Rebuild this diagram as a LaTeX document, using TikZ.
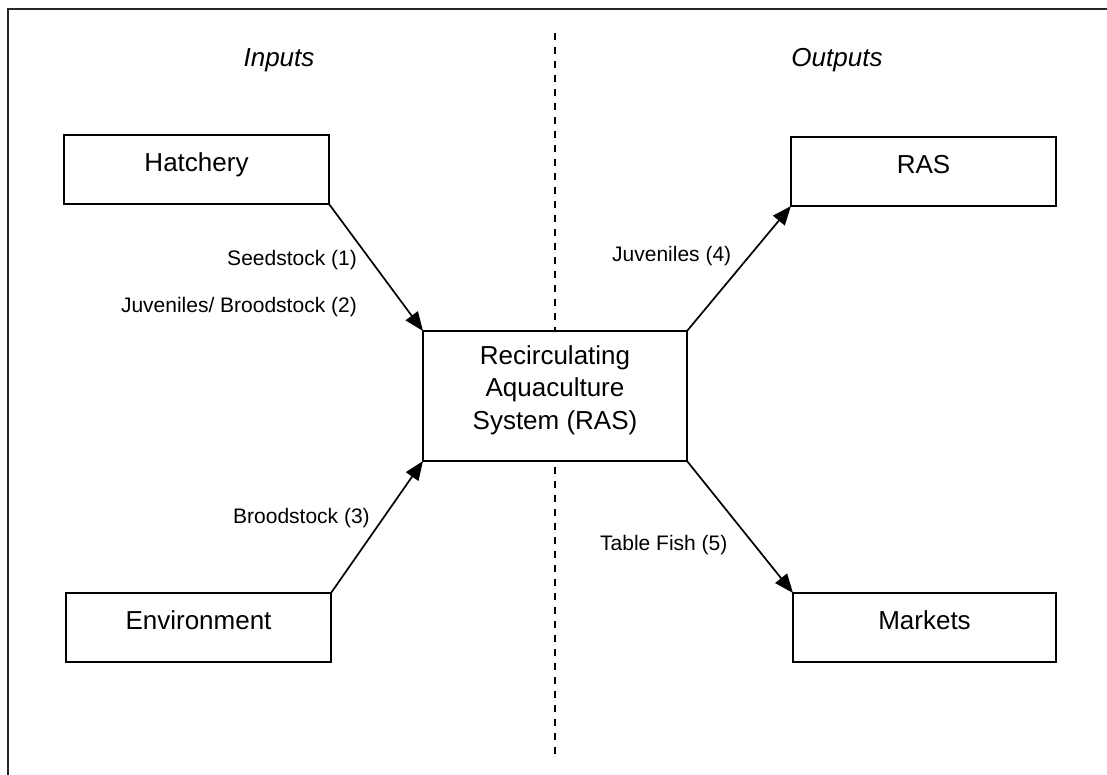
\documentclass[tikz,border=0pt]{standalone}
\usepackage{fontspec}
\setmainfont{Liberation Sans}
\usetikzlibrary{arrows.meta}
\begin{document}
\begin{tikzpicture}[x=1pt,y=-1pt,
  box/.style={draw=black,line width=1.6pt,fill=white,inner sep=0pt,outer sep=0pt},
  boxtxt/.style={font=\fontsize{26}{32.5}\selectfont,inner sep=0pt,text height=19pt,text depth=5pt},
  multitxt/.style={font=\fontsize{26}{32.5}\selectfont,align=center,inner sep=0pt},
  flowlbl/.style={font=\fontsize{21}{25}\selectfont,inner sep=0pt},
  headlbl/.style={font=\fontsize{26}{31}\selectfont\itshape,inner sep=0pt},
  flow/.style={line width=1.7pt,-{Triangle[length=19pt,width=15pt]}},
  divider/.style={line width=2pt,dash pattern=on 7pt off 7pt},
  frame/.style={line width=2pt,draw=black!85}]
\useasboundingbox (0,0) rectangle (1107,774);
% frame (left and top edges only)
\coordinate (fbl) at (8,780);
\coordinate (ftl) at (8,9);
\coordinate (ftr) at (1115,9);
\draw[frame] (fbl) -- (ftl) -- (ftr);
% divider
\coordinate (dtop) at (555,33);
\coordinate (dbot) at (555,755);
\draw[divider] (dtop) -- (dbot);
% headings
\node[headlbl] (inputs) at (279,60) {Inputs};
\node[headlbl] (outputs) at (837,60) {Outputs};
% boxes
\node[box,minimum width=265pt,minimum height=69pt,
  label={[boxtxt,yshift=5pt]center:Hatchery}] (hat) at (196.5,169.5) {};
\node[box,minimum width=265pt,minimum height=69pt,
  label={[boxtxt,yshift=5pt]center:Environment}] (env) at (198.5,627.5) {};
\node[box,minimum width=265pt,minimum height=69pt,
  label={[boxtxt,yshift=5pt]center:RAS}] (ras) at (923.5,171.5) {};
\node[box,minimum width=263pt,minimum height=69pt,
  label={[boxtxt,yshift=5pt]center:Markets}] (mkt) at (924.5,627.5) {};
\node[box,minimum width=264pt,minimum height=130pt,
  label={[multitxt,yshift=6pt]center:Recirculating\\Aquaculture\\System (RAS)}] (sys) at (555,396) {};
% connectors
\draw[flow] (hat.south east) -- (sys.north west);
\draw[flow] (env.north east) -- (sys.south west);
\draw[flow] (sys.north east) -- (ras.south west);
\draw[flow] (sys.south east) -- (mkt.north west);
% connector labels
\node[flowlbl,anchor=east] (l1) at (357,260) {Seedstock (1)};
\node[flowlbl,anchor=east] (l2) at (357,307) {Juveniles/ Broodstock (2)};
\node[flowlbl,anchor=west] (l3) at (233,518) {Broodstock (3)};
\node[flowlbl,anchor=west] (l4) at (612,256) {Juveniles (4)};
\node[flowlbl,anchor=west] (l5) at (600,545) {Table Fish (5)};
\end{tikzpicture}
\end{document}
